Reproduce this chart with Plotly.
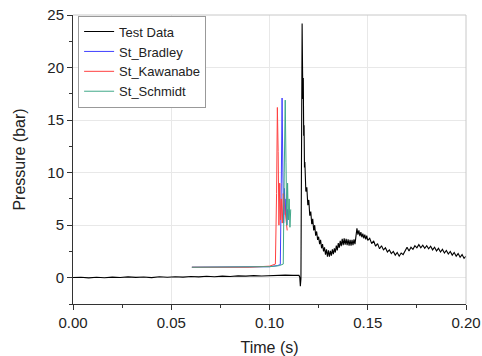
import plotly.graph_objects as go

# ---------------- data ----------------
test_time = [
    0.000, 0.004, 0.008, 0.012, 0.016, 0.020, 0.024, 0.028, 0.032, 0.036,
    0.040, 0.044, 0.048, 0.052, 0.056, 0.060, 0.064, 0.068, 0.072, 0.076,
    0.080, 0.084, 0.088, 0.092, 0.096, 0.100, 0.104, 0.108, 0.112, 0.1145,
    0.1150, 0.1154, 0.1157, 0.1160, 0.1163, 0.1166, 0.1168, 0.1170, 0.1172,
    0.1174, 0.1176, 0.1178, 0.1180, 0.1185,
    0.1190, 0.1195, 0.1200, 0.1205, 0.1210, 0.1215, 0.1220, 0.1225, 0.1230, 0.1235,
    0.1240, 0.1245, 0.1250, 0.1255, 0.1260, 0.1265, 0.1270, 0.1275, 0.1280, 0.1285,
    0.1290, 0.1295, 0.1300, 0.1305, 0.1310, 0.1315, 0.1320, 0.1325, 0.1330, 0.1335,
    0.1340, 0.1345, 0.1350, 0.1355, 0.1360, 0.1365, 0.1370, 0.1375, 0.1380, 0.1385,
    0.1390, 0.1395, 0.1400, 0.1405, 0.1410, 0.1415, 0.1420, 0.1425, 0.1430, 0.1435,
    0.1440, 0.1445, 0.1450, 0.1455, 0.1460, 0.1465, 0.1470, 0.1475, 0.1480, 0.1485,
    0.1490, 0.1495, 0.1500, 0.151, 0.152, 0.153, 0.154, 0.155, 0.156, 0.157, 0.158,
    0.159, 0.160, 0.161, 0.162, 0.163, 0.164, 0.165, 0.166, 0.167, 0.168,
    0.169, 0.170, 0.171, 0.172, 0.173, 0.174, 0.175, 0.176, 0.177, 0.178,
    0.179, 0.180, 0.181, 0.182, 0.183, 0.184, 0.185, 0.186, 0.187, 0.188,
    0.189, 0.190, 0.191, 0.192, 0.193, 0.194, 0.195, 0.196, 0.197, 0.198,
    0.199, 0.200,
]
test_pressure = [
    0.02, 0.05, -0.01, 0.04, 0.00, 0.06, 0.02, 0.08, 0.03, 0.07,
    0.01, 0.09, 0.05, 0.10, 0.06, 0.12, 0.08, 0.14, 0.10, 0.15,
    0.12, 0.18, 0.15, 0.20, 0.17, 0.22, 0.20, 0.25, 0.22, 0.24,
    0.22, 0.05, -0.80, -0.10, 12.0, 24.2, 20.2, 17.0, 19.0,
    13.5, 14.5, 10.5, 11.0, 8.2,
    8.6, 6.9, 7.4, 5.9, 6.3, 5.1, 5.6, 4.5, 5.0, 4.0,
    4.4, 3.6, 3.9, 3.2, 3.6, 2.8, 3.2, 2.5, 2.9, 2.2,
    2.7, 2.0, 2.6, 2.0, 2.55, 2.1, 2.7, 2.25, 2.8, 2.4,
    3.05, 2.6, 3.3, 2.85, 3.5, 3.0, 3.7, 3.1, 3.75, 3.15,
    3.7, 3.1, 3.65, 3.05, 3.6, 3.05, 3.6, 3.1, 3.65, 3.2,
    4.4, 4.7, 4.1, 4.5, 3.95, 4.35, 3.85, 4.2, 3.75, 4.1,
    3.65, 4.0, 3.55, 3.75, 3.25, 3.5, 3.0, 3.25, 2.75, 3.05, 2.65,
    2.85, 2.45, 2.65, 2.3, 2.5, 2.15, 2.4, 2.05, 2.35, 2.2,
    2.6, 2.9, 2.55, 2.9, 2.7, 3.05, 2.85, 3.15, 2.85, 3.1,
    2.8, 3.05, 2.75, 3.0, 2.65, 2.9, 2.55, 2.8, 2.45, 2.7,
    2.35, 2.6, 2.25, 2.5, 2.15, 2.4, 2.05, 2.3, 1.95, 2.2,
    1.85, 2.05,
]

bradley_time = [0.0605, 0.0900, 0.1000, 0.1040, 0.1055, 0.1060, 0.1064, 0.1068,
                0.1072, 0.1076, 0.1080, 0.1084, 0.1088, 0.1092, 0.1096]
bradley_pressure = [1.0, 1.0, 1.05, 1.15, 1.25, 9.0, 17.1, 10.0,
                    5.2, 8.5, 6.0, 7.5, 5.0, 6.5, 5.5]

kawanabe_time = [0.0605, 0.0900, 0.1000, 0.1030, 0.1036, 0.1040, 0.1044, 0.1048,
                 0.1052, 0.1056, 0.1060, 0.1065, 0.1070, 0.1075, 0.1080, 0.1085, 0.1090]
kawanabe_pressure = [1.0, 1.0, 1.1, 1.3, 8.0, 16.2, 12.0, 5.0,
                     9.0, 5.5, 7.5, 5.2, 8.0, 7.0, 6.0, 5.2, 4.5]

schmidt_time = [0.0605, 0.0900, 0.1000, 0.1050, 0.1070, 0.1075, 0.1080, 0.1084,
                0.1088, 0.1092, 0.1096, 0.1100, 0.1104, 0.1108]
schmidt_pressure = [1.0, 1.0, 1.05, 1.15, 1.3, 10.0, 16.9, 11.0,
                    5.0, 9.0, 5.5, 7.5, 4.8, 6.5]

series_names = ["Test Data", "St_Bradley", "St_Kawanabe", "St_Schmidt"]
x_tick_vals = [0.00, 0.05, 0.10, 0.15, 0.20]
y_tick_vals = [0, 5, 10, 15, 20, 25]

# ---------------- figure ----------------
FONT = "Liberation Sans, Arial, sans-serif"
fig = go.Figure()
fig.add_trace(go.Scatter(x=test_time, y=test_pressure, mode="lines", name=series_names[0],
                         line=dict(color="#000000", width=1.1)))
fig.add_trace(go.Scatter(x=bradley_time, y=bradley_pressure, mode="lines", name=series_names[1],
                         line=dict(color="#4040ff", width=1)))
fig.add_trace(go.Scatter(x=kawanabe_time, y=kawanabe_pressure, mode="lines", name=series_names[2],
                         line=dict(color="#ff4040", width=1)))
fig.add_trace(go.Scatter(x=schmidt_time, y=schmidt_pressure, mode="lines", name=series_names[3],
                         line=dict(color="#40a888", width=1)))

axis_common = dict(
    showline=True, linecolor="#333333", linewidth=1,
    ticks="outside", ticklen=5, tickcolor="#333333", tickwidth=1,
    showgrid=True, gridcolor="#e8e8e8", gridwidth=1,
    zeroline=False, automargin=False, ticklabeloverflow="allow",
    tickfont=dict(family=FONT, size=15, color="#222222"),
)

fig.update_xaxes(
    range=[0, 0.2], tickvals=x_tick_vals, tickformat=".2f",
    minor=dict(ticks="outside", ticklen=3, dtick=0.025, tick0=0, tickcolor="#333333", showgrid=False),
    title=dict(text="Time (s)", font=dict(family=FONT, size=16, color="#222222"), standoff=11),
    **axis_common,
)
fig.update_yaxes(
    range=[-2.5, 25], tickvals=y_tick_vals,
    minor=dict(ticks="outside", ticklen=3, dtick=2.5, tick0=0, tickcolor="#333333", showgrid=False),
    title=dict(text="Pressure (bar)", font=dict(family=FONT, size=16, color="#222222"), standoff=17),
    **axis_common,
)

fig.add_shape(type="line", xref="paper", yref="paper", x0=0, x1=1, y0=1, y1=1,
              line=dict(color="#c8c8c8", width=1))
fig.add_shape(type="line", xref="paper", yref="paper", x0=1, x1=1, y0=0, y1=1,
              line=dict(color="#c8c8c8", width=1))

fig.update_layout(
    width=482, height=356,
    margin=dict(l=73, r=16, t=15, b=52),
    paper_bgcolor="white", plot_bgcolor="white",
    font=dict(family=FONT, size=14, color="#222222"),
    showlegend=True,
    legend=dict(x=0.013, y=0.998, xanchor="left", yanchor="top",
                bgcolor="white", bordercolor="#999999", borderwidth=1,
                font=dict(family=FONT, size=13, color="#222222"),
                tracegroupgap=0, itemwidth=30),
)

fig.write_html(
    "out.html",
    config={"displayModeBar": False},
    post_script="document.body.style.margin='0';document.body.style.overflow='hidden';",
)
